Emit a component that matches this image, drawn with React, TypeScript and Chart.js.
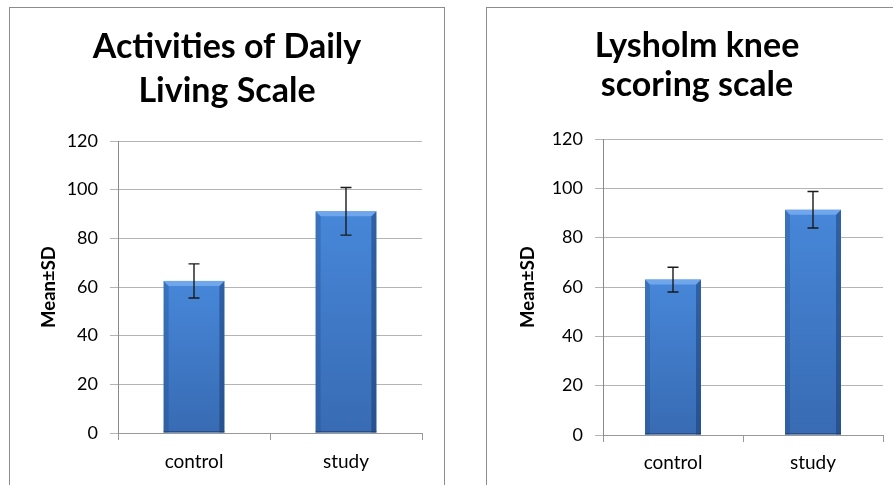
import React, { useEffect, useRef } from 'react';
import { Chart, registerables } from 'chart.js';

Chart.register(...registerables);

// ---- data ----
const categories = ['control', 'study'];
const adlTitle = ['Activities of Daily', 'Living Scale'];
const adlMeans = [62.5, 91.1];
const adlSD = [7, 9.8];
const lysholmTitle = ['Lysholm knee', 'scoring scale'];
const lysholmMeans = [63, 91.3];
const lysholmSD = [5, 7.4];
const yTicks = [0, 20, 40, 60, 80, 100, 120];
const yAxisTitle = 'Mean±SD';

const FONT = 'Lato, "Open Sans", sans-serif';

const bevelPlugin = {
  id: 'bevelBars',
  afterDatasetsDraw(chart: any, _args: any, opts: any) {
    const ctx: CanvasRenderingContext2D = chart.ctx;
    const meta = chart.getDatasetMeta(0);
    const yScale = chart.scales.y;
    const means: number[] = chart.data.datasets[0].data;
    const sds: number[] = opts.sds || [];
    const poly = (pts: number[][], fill: any) => {
      ctx.beginPath();
      ctx.moveTo(pts[0][0], pts[0][1]);
      for (let k = 1; k < pts.length; k++) ctx.lineTo(pts[k][0], pts[k][1]);
      ctx.closePath();
      ctx.fillStyle = fill;
      ctx.fill();
    };
    meta.data.forEach((el: any, i: number) => {
      const { x, y, base, width } = el.getProps(['x', 'y', 'base', 'width'], true);
      const x0 = x - width / 2;
      const x1 = x + width / 2;
      const yT = y;
      const yB = base;
      const b = 5;
      ctx.save();
      const g = ctx.createLinearGradient(0, yT, 0, yB);
      g.addColorStop(0, '#4787d9');
      g.addColorStop(1, '#386bb3');
      ctx.fillStyle = g;
      ctx.fillRect(x0, yT, width, yB - yT);
      poly([[x0, yT], [x0 + b, yT + b], [x0 + b, yB], [x0, yB]], 'rgba(30,70,130,0.30)');
      poly([[x1, yT], [x1 - b, yT + b], [x1 - b, yB], [x1, yB]], 'rgba(20,50,100,0.45)');
      poly([[x0, yT], [x1, yT], [x1 - b, yT + b], [x0 + b, yT + b]], '#70a6ec');
      ctx.fillStyle = 'rgba(30,60,110,0.6)';
      ctx.fillRect(x0, yB - 1.5, width, 1.5);
      ctx.restore();

      // error bar
      const m = means[i];
      const sd = sds[i] || 0;
      const yHi = yScale.getPixelForValue(m + sd);
      const yLo = yScale.getPixelForValue(m - sd);
      ctx.save();
      ctx.strokeStyle = '#1a1a1a';
      ctx.lineWidth = 1.4;
      ctx.beginPath();
      ctx.moveTo(x, yHi);
      ctx.lineTo(x, yLo);
      ctx.moveTo(x - 5.5, yHi);
      ctx.lineTo(x + 5.5, yHi);
      ctx.moveTo(x - 5.5, yLo);
      ctx.lineTo(x + 5.5, yLo);
      ctx.stroke();
      ctx.restore();
    });
  },
};

type Spec = {
  title: string[];
  means: number[];
  sds: number[];
  left: number;
  top: number;
  width: number;
  height: number;
  padLeft: number;
  padRight: number;
  yWidth: number;
  xHeight: number;
  yTitlePad: number;
  titleLineHeight: number;
  titlePadTop: number;
  titlePadBottom: number;
  xLabelPad: number;
};

function BarPanel({ spec }: { spec: Spec }) {
  const ref = useRef<HTMLCanvasElement | null>(null);
  useEffect(() => {
    if (!ref.current) return;
    const chart = new Chart(ref.current, {
      type: 'bar',
      data: {
        labels: categories,
        datasets: [
          {
            data: spec.means,
            backgroundColor: 'rgba(0,0,0,0)',
            borderWidth: 0,
            barPercentage: 0.4,
            categoryPercentage: 1.0,
          },
        ],
      },
      options: {
        responsive: false,
        animation: false,
        layout: { padding: { left: spec.padLeft, right: spec.padRight, top: 0, bottom: 0 } },
        plugins: {
          legend: { display: false },
          tooltip: { enabled: false },
          title: {
            display: true,
            text: spec.title,
            color: '#000',
            font: {
              family: FONT,
              weight: 'bold',
              size: 34,
              lineHeight: spec.titleLineHeight / 34,
            },
            padding: { top: spec.titlePadTop, bottom: spec.titlePadBottom },
          },
          bevelBars: { sds: spec.sds },
        } as any,
        scales: {
          x: {
            afterFit: (s: any) => {
              s.height = spec.xHeight;
            },
            grid: {
              display: true,
              drawOnChartArea: false,
              drawTicks: true,
              tickLength: 7,
              offset: true,
              color: '#999',
            },
            border: { display: true, color: '#999', width: 1 },
            ticks: {
              color: '#000',
              padding: spec.xLabelPad,
              font: { family: FONT, size: 19 },
            },
          },
          y: {
            min: 0,
            max: 120,
            afterFit: (s: any) => {
              s.width = spec.yWidth;
            },
            afterBuildTicks: (s: any) => {
              s.ticks = yTicks.map((v) => ({ value: v }));
            },
            grid: {
              color: '#b4b4b4',
              drawTicks: true,
              tickLength: 8,
            },
            border: { display: true, color: '#8a8a8a', width: 1 },
            ticks: {
              color: '#000',
              padding: 12,
              font: { family: FONT, size: 18 },
            },
            title: {
              display: true,
              text: yAxisTitle,
              color: '#000',
              font: { family: FONT, weight: 'bold', size: 18.5, lineHeight: 1.2 },
              padding: { top: spec.yTitlePad, bottom: 0 },
            },
          },
        },
      },
      plugins: [bevelPlugin as any],
    });
    return () => chart.destroy();
  }, [spec]);
  return (
    <canvas
      ref={ref}
      width={spec.width}
      height={spec.height}
      style={{
        position: 'absolute',
        left: spec.left,
        top: spec.top,
        width: spec.width,
        height: spec.height,
        display: 'block',
      }}
    />
  );
}

const leftSpec: Spec = {
  title: adlTitle,
  means: adlMeans,
  sds: adlSD,
  left: 10,
  top: 8,
  width: 434,
  height: 477,
  padLeft: 22,
  padRight: 22,
  yWidth: 86,
  xHeight: 52,
  yTitlePad: 6.4,
  titleLineHeight: 43.5,
  titlePadTop: 17.5,
  titlePadBottom: 28.5,
  xLabelPad: 10.5,
};

const rightSpec: Spec = {
  title: lysholmTitle,
  means: lysholmMeans,
  sds: lysholmSD,
  left: 487,
  top: 8,
  width: 406,
  height: 477,
  padLeft: 24,
  padRight: 10,
  yWidth: 92,
  xHeight: 50,
  yTitlePad: 6.4,
  titleLineHeight: 39,
  titlePadTop: 19,
  titlePadBottom: 34,
  xLabelPad: 9.6,
};

export default function App() {
  return (
    <div
      style={{
        position: 'fixed',
        left: 0,
        top: 0,
        width: 893,
        height: 485,
        overflow: 'hidden',
        background: '#fff',
      }}
    >
      <div
        style={{
          position: 'absolute',
          left: 9,
          top: 7,
          width: 436,
          height: 500,
          boxSizing: 'border-box',
          border: '1px solid #8c8c8c',
          background: '#fff',
        }}
      />
      <div
        style={{
          position: 'absolute',
          left: 486,
          top: 7,
          width: 440,
          height: 500,
          boxSizing: 'border-box',
          border: '1px solid #8c8c8c',
          background: '#fff',
        }}
      />
      <BarPanel spec={leftSpec} />
      <BarPanel spec={rightSpec} />
    </div>
  );
}
